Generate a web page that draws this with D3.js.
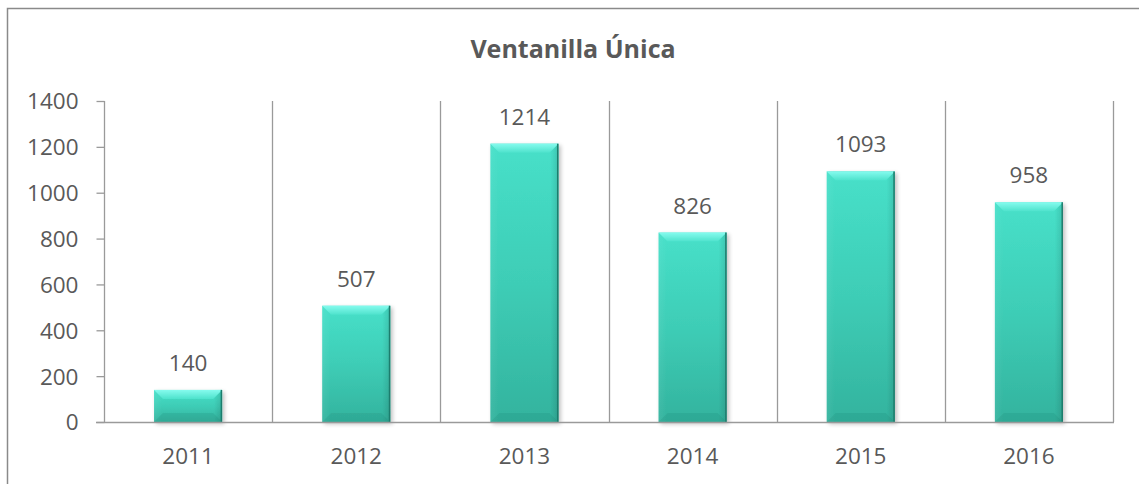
<!DOCTYPE html>
<html>
<head>
<meta charset="utf-8">
<script src="https://cdn.jsdelivr.net/npm/d3@7"></script>
<style>
  html, body { margin: 0; padding: 0; background: #fff; }
  svg { display: block; }
  text { font-family: "Open Sans", "Liberation Sans", sans-serif; fill: #595959; }
</style>
</head>
<body>
<svg id="chart" width="1139" height="484"></svg>
<script>
// Trámites atendidos por año
const years = ["2011", "2012", "2013", "2014", "2015", "2016"];
const values = [140, 507, 1214, 826, 1093, 958];
const yTicks = [0, 200, 400, 600, 800, 1000, 1200, 1400];
const title = "Ventanilla Única";

const W = 1139, H = 484;
const plot = { left: 104, right: 1113, top: 101, bottom: 422 };
const svg = d3.select("#chart");

// outer chart frame (top and left edges visible)
svg.append("path")
  .attr("d", `M7.5,${H} L7.5,8.5 L${W},8.5`)
  .attr("fill", "none").attr("stroke", "#8a8a8a").attr("stroke-width", 1.5);

const x = d3.scaleBand().domain(years)
  .range([plot.left, plot.right])
  .paddingInner(0.595).paddingOuter(0.2975);
const y = d3.scaleLinear().domain([0, 1400]).range([plot.bottom, plot.top]);

// defs: gradients & shadow
const defs = svg.append("defs");
const body = defs.append("linearGradient").attr("id", "barBody").attr("x1", 0).attr("x2", 0).attr("y1", 0).attr("y2", 1);
[["0%", "#47e0c9"], ["50%", "#3ecdb6"], ["100%", "#33b39e"]]
  .forEach(([o, c]) => body.append("stop").attr("offset", o).attr("stop-color", c));
const side = defs.append("linearGradient").attr("id", "barSide").attr("x1", 0).attr("x2", 1).attr("y1", 0).attr("y2", 0);
[["0%", "#fff", 0.06], ["12%", "#fff", 0], ["88%", "#000", 0], ["100%", "#000", 0.12]]
  .forEach(([o, c, a]) => side.append("stop").attr("offset", o).attr("stop-color", c).attr("stop-opacity", a));
const topG = defs.append("linearGradient").attr("id", "barTop").attr("x1", 0).attr("x2", 0).attr("y1", 0).attr("y2", 1);
[["0%", "#85fbee"], ["100%", "#4ee2cc"]]
  .forEach(([o, c]) => topG.append("stop").attr("offset", o).attr("stop-color", c));
const shadow = defs.append("filter").attr("id", "shadow").attr("x", "-20%").attr("y", "-20%").attr("width", "150%").attr("height", "150%");
shadow.append("feGaussianBlur").attr("in", "SourceAlpha").attr("stdDeviation", 2);
shadow.append("feOffset").attr("dx", 2).attr("dy", 2).attr("result", "b");
shadow.append("feComponentTransfer").append("feFuncA").attr("type", "linear").attr("slope", 0.25);
const merge = shadow.append("feMerge");
merge.append("feMergeNode");
merge.append("feMergeNode").attr("in", "SourceGraphic");

// title
svg.append("text")
  .attr("x", 573).attr("y", 58)
  .attr("text-anchor", "middle")
  .style("font-size", "25px").style("font-weight", "bold")
  .text(title);

// vertical gridlines at category boundaries
const bounds = d3.range(years.length + 1).map(i => plot.left + i * x.step());
svg.append("g").selectAll("line").data(bounds).join("line")
  .attr("x1", d => Math.round(d) + 0.5).attr("x2", d => Math.round(d) + 0.5)
  .attr("y1", plot.top).attr("y2", plot.bottom)
  .attr("stroke", "#9a9a9a").attr("stroke-width", 1.3);

// y axis
const yAxis = svg.append("g").attr("transform", `translate(${plot.left + 0.5},0)`)
  .call(d3.axisLeft(y).tickValues(yTicks).tickSize(8).tickPadding(18).tickFormat(d3.format("d")));
yAxis.select(".domain").remove();
yAxis.selectAll("line").attr("stroke", "#9a9a9a").attr("stroke-width", 1.3);
yAxis.selectAll("text").style("font-size", "22.5px").attr("fill", "#595959").attr("dy", "0.35em");

// bars
const bars = svg.append("g").selectAll("g").data(years).join("g")
  .attr("filter", "url(#shadow)");
bars.each(function (d, i) {
  const g = d3.select(this);
  const x0 = x(d), w = x.bandwidth(), y0 = y(values[i]), h = plot.bottom - y0;
  const b = Math.min(9, h / 2);
  g.append("rect").attr("x", x0).attr("y", y0).attr("width", w).attr("height", h).attr("fill", "url(#barBody)");
  g.append("rect").attr("x", x0).attr("y", y0).attr("width", w).attr("height", h).attr("fill", "url(#barSide)");
  // top bevel
  g.append("path")
    .attr("d", `M${x0},${y0} L${x0 + w},${y0} L${x0 + w - b},${y0 + b} L${x0 + b},${y0 + b} Z`)
    .attr("fill", "url(#barTop)");
  // bottom bevel
  g.append("path")
    .attr("d", `M${x0},${y0 + h} L${x0 + b},${y0 + h - b} L${x0 + w - b},${y0 + h - b} L${x0 + w},${y0 + h} Z`)
    .attr("fill", "#1e7e6e").attr("opacity", 0.18);
  // dark outline on right edge
  g.append("line").attr("x1", x0 + w - 0.75).attr("x2", x0 + w - 0.75).attr("y1", y0).attr("y2", y0 + h)
    .attr("stroke", "#1f7d6d").attr("stroke-width", 1.5);
});

// x axis baseline
svg.append("line")
  .attr("x1", plot.left - 8).attr("x2", plot.right + 1)
  .attr("y1", plot.bottom + 0.5).attr("y2", plot.bottom + 0.5)
  .attr("stroke", "#9a9a9a").attr("stroke-width", 1.3);

// x labels
svg.append("g").selectAll("text").data(years).join("text")
  .attr("x", d => x(d) + x.bandwidth() / 2)
  .attr("y", 464)
  .attr("text-anchor", "middle")
  .style("font-size", "22.5px")
  .text(d => d);

// value labels
svg.append("g").selectAll("text").data(years).join("text")
  .attr("x", d => x(d) + x.bandwidth() / 2)
  .attr("y", (d, i) => y(values[i]) - 19)
  .attr("text-anchor", "middle")
  .style("font-size", "22.5px")
  .text((d, i) => values[i]);
</script>
</body>
</html>
